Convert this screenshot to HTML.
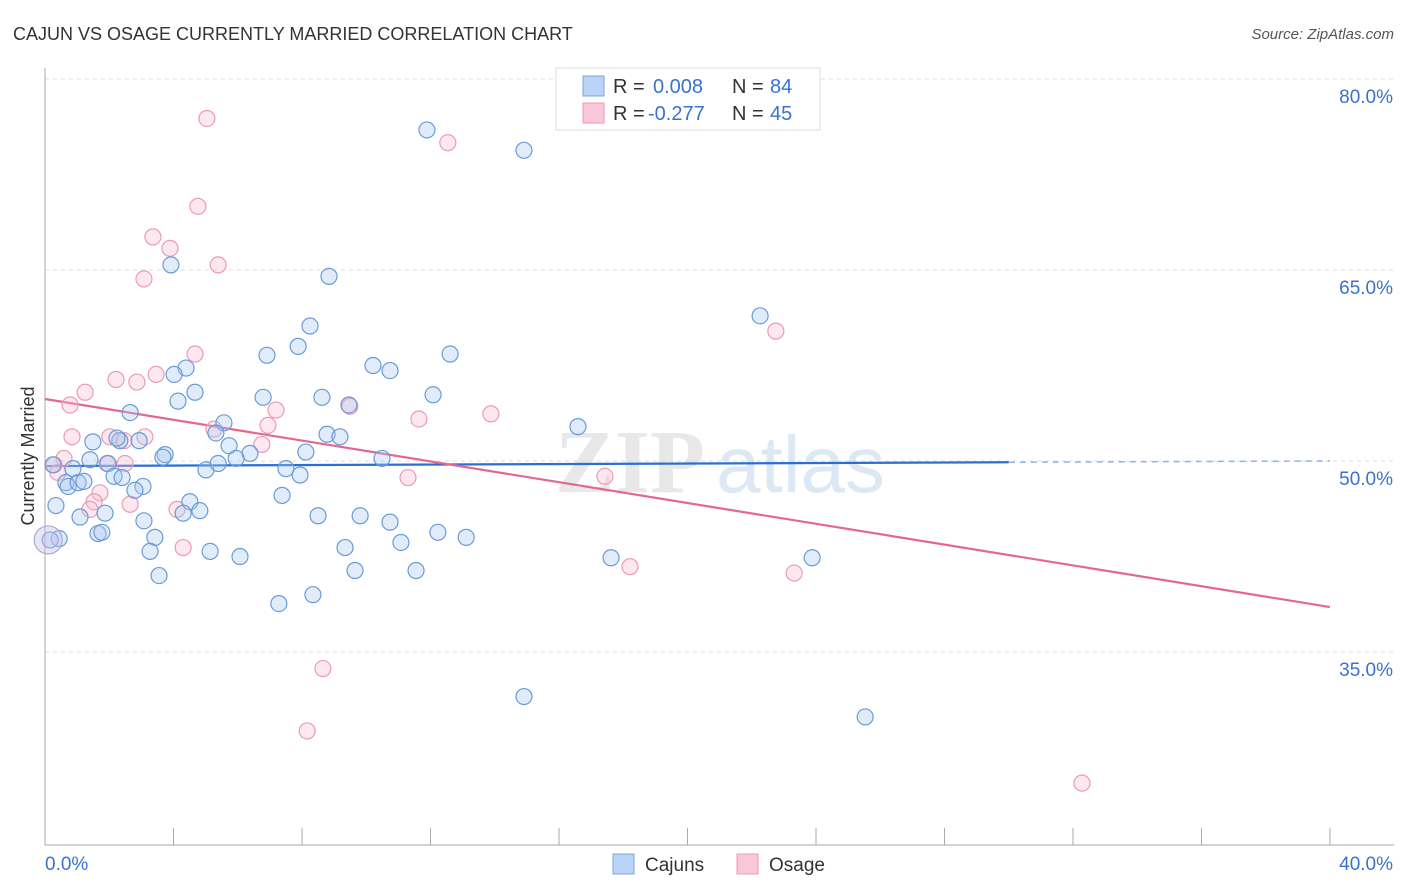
<!DOCTYPE html>
<html><head><meta charset="utf-8"><style>
body{margin:0;background:#fff;font-family:"Liberation Sans",sans-serif;}
svg{display:block}
</style></head><body>
<svg id="chart" width="1406" height="892">
<text x="13" y="40" font-size="18" fill="#333">CAJUN VS OSAGE CURRENTLY MARRIED CORRELATION CHART</text>
<text x="1394" y="39" font-size="15" fill="#555" font-style="italic" text-anchor="end">Source: ZipAtlas.com</text>
<g>
<text x="555" y="492" font-size="90" fill="#e8e8e8" font-family="Liberation Serif" font-weight="bold">ZIP</text>
<text x="716" y="492" font-size="80" fill="#dde8f5">atlas</text>
</g>
<g id="grid"></g>
<g id="axes"></g>
<g id="trend"></g>
<g id="points"></g>
<text transform="translate(34,456) rotate(-90)" font-size="18" fill="#333" text-anchor="middle">Currently Married</text>
<g>
<rect x="556" y="68" width="264" height="62" fill="#fff" stroke="#ddd"/>
<rect x="583" y="76" width="21" height="20" fill="#b8d3f5" stroke="#7aa7e0"/>
<rect x="583" y="103" width="21" height="20" fill="#fac7d8" stroke="#ec9ab5"/>
<text x="613" y="93" font-size="20" fill="#333">R =</text>
<text x="653" y="93" font-size="20" fill="#3a72d0">0.008</text>
<text x="732" y="93" font-size="20" fill="#333">N =</text>
<text x="770" y="93" font-size="20" fill="#3a72d0">84</text>
<text x="613" y="120" font-size="20" fill="#333">R =</text>
<text x="648" y="120" font-size="20" fill="#3a72d0">-0.277</text>
<text x="732" y="120" font-size="20" fill="#333">N =</text>
<text x="770" y="120" font-size="20" fill="#3a72d0">45</text>
</g>
<g>
<rect x="613" y="854" width="21" height="20" fill="#b8d3f5" stroke="#7aa7e0"/>
<text x="645" y="871" font-size="19" fill="#333">Cajuns</text>
<rect x="737" y="854" width="21" height="20" fill="#fac7d8" stroke="#ec9ab5"/>
<text x="769" y="871" font-size="19" fill="#333">Osage</text>
</g>
</svg>
<script>
const yTicks=[80,65,50,35];
const xTickLabels=["0.0%","40.0%"];
const cajunX=[11.89,14.91,3.92,8.84,22.26,8.25,6.91,7.88,12.61,10.21,10.74,4.39,4.02,4.67,12.08,4.14,6.79,8.62,9.46,2.65,5.57,8.78,9.18,16.59,1.49,2.33,2.93,2.24,5.32,5.73,3.74,3.67,6.38,8.12,5.95,10.49,1.40,0.25,1.96,0.87,5.01,5.39,7.50,7.94,2.15,2.40,0.65,0.72,1.03,1.21,3.05,2.80,7.38,4.51,0.34,4.82,4.30,1.87,1.09,3.08,8.50,9.81,10.74,1.65,1.77,3.42,12.23,13.11,11.08,9.34,3.27,5.14,6.07,17.62,23.88,0.44,0.16,3.55,9.65,11.55,7.28,8.34,14.91,25.53];
const cajunY=[76.0,74.4,65.4,64.5,61.4,60.6,58.3,59.0,58.4,57.5,57.1,57.3,56.8,55.4,55.2,54.7,55.0,55.0,54.4,53.8,53.0,52.1,51.9,52.7,51.5,51.6,51.6,51.8,52.2,51.2,50.5,50.3,50.6,50.7,50.2,50.2,50.1,49.7,49.8,49.4,49.3,49.8,49.4,48.9,48.8,48.7,48.3,48.0,48.3,48.4,48.0,47.7,47.3,46.8,46.5,46.1,45.9,45.9,45.6,45.3,45.7,45.7,45.2,44.3,44.4,44.0,44.4,44.0,43.6,43.2,42.9,42.9,42.5,42.4,42.4,43.9,43.8,41.0,41.4,41.4,38.8,39.5,31.5,29.9];
const osageX=[5.04,12.54,4.76,3.36,3.89,5.39,3.08,4.67,3.46,2.21,2.86,1.25,0.78,7.19,9.49,13.88,11.64,5.26,6.94,2.02,3.11,2.46,0.84,6.75,0.59,1.93,2.49,0.28,0.40,11.30,17.43,1.71,1.53,2.65,1.40,4.11,4.30,18.21,23.32,22.75,8.65,8.16,32.28];
const osageY=[76.9,75.0,70.0,67.6,66.7,65.4,64.3,58.4,56.8,56.4,56.2,55.4,54.4,54.0,54.3,53.7,53.3,52.5,52.8,51.9,51.9,51.6,51.9,51.3,50.2,49.8,49.8,49.7,49.1,48.7,48.8,47.5,46.8,46.6,46.2,46.2,43.2,41.7,41.2,60.2,33.7,28.8,24.7];
const bigX=[0.1], bigY=[43.8];
const cajunTrend=[49.6,49.9]; // at x=0 and x=30
const osageTrend=[54.87,38.53]; // at x=0 and x=40

const NS="http://www.w3.org/2000/svg";
const X=v=>45+v*32.125;
const Y=v=>79+(80-v)*12.733;
function mk(tag,attrs,parent){const e=document.createElementNS(NS,tag);for(const k in attrs)e.setAttribute(k,attrs[k]);parent.appendChild(e);return e;}
const grid=document.getElementById('grid'),axes=document.getElementById('axes'),trend=document.getElementById('trend'),pts=document.getElementById('points');
yTicks.forEach(t=>{
 const l=mk('line',{x1:45,x2:1394,y1:Y(t),y2:Y(t),stroke:'#ddd','stroke-dasharray':'4,4'},grid);
 
 
 const tx=mk('text',{x:1393,y:Y(t)+24,'font-size':19,fill:'#3a72d0','text-anchor':'end'},grid);
 tx.textContent=t.toFixed(1)+'%';
 
 
});
const ya=mk('line',{x1:45,x2:45,y1:68,y2:845,stroke:'#aaa'},axes);


const xa=mk('line',{x1:45,x2:1394,y1:845,y2:845,stroke:'#aaa'},axes);


for(let i=0;i<=10;i++){
 const t=mk('line',{x1:X(i*4),x2:X(i*4),y1:828,y2:845,stroke:'#aaa'},axes);
 
 
}
const xl0=mk('text',{x:45,y:870,'font-size':19,fill:'#3a72d0'},axes);
xl0.textContent=xTickLabels[0];


const xl1=mk('text',{x:1393,y:870,'font-size':19,fill:'#3a72d0','text-anchor':'end'},axes);
xl1.textContent=xTickLabels[1];



function dots(xs,ys,fill,stroke,name,r){
 xs.forEach((x,i)=>{
  const c=mk('circle',{cx:X(x),cy:Y(ys[i]),r:r,fill:fill,stroke:stroke,'stroke-width':1.2},pts);
  
  
 });
}
dots(osageX,osageY,'rgba(250,190,210,0.35)','#ec9ab5','osage-point',8);
dots(cajunX,cajunY,'rgba(170,200,240,0.35)','#6a9bd8','cajun-point',8);
dots(bigX,bigY,'rgba(200,190,230,0.4)','#a8a8dd','large-point',14);

const t1=mk('line',{x1:X(0),y1:Y(cajunTrend[0]),x2:X(30),y2:Y(cajunTrend[1]),stroke:'#2a6fd6','stroke-width':2.2},trend);


const slope=(cajunTrend[1]-cajunTrend[0])/30;
const t1b=mk('line',{x1:X(30),y1:Y(cajunTrend[1]),x2:X(40),y2:Y(cajunTrend[1]+slope*10),stroke:'#8fb2e8','stroke-width':1.5,'stroke-dasharray':'6,5'},trend);


const t2=mk('line',{x1:X(0),y1:Y(osageTrend[0]),x2:X(40),y2:Y(osageTrend[1]),stroke:'#e3688f','stroke-width':2.2},trend);


</script>
</body></html>
